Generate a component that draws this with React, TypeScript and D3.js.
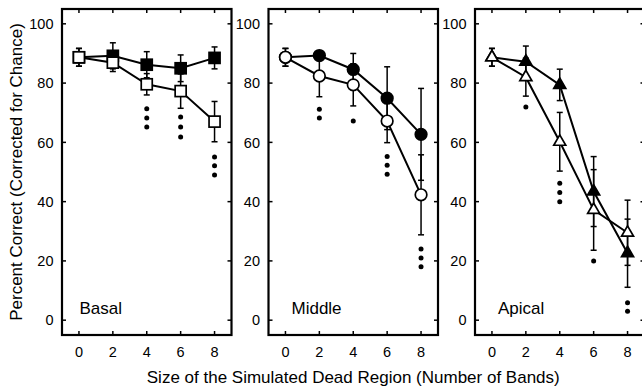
import React from 'react';
import * as d3 from 'd3';

// ---- data ----
const doses = [0, 2, 4, 6, 8];
const xTickValues = [0, 2, 4, 6, 8];
const yTickValues = [0, 20, 40, 60, 80, 100];
const panelNames = ['Basal', 'Middle', 'Apical'];
const markerShapes = ['square', 'circle', 'triangle'];

const basalFilled = [88.7, 89.2, 86.2, 85.0, 88.5];
const basalFilledErr = [3.0, 4.4, 4.4, 4.5, 3.7];
const basalOpen = [88.7, 86.9, 79.6, 77.3, 67.0];
const basalOpenErr = [3.0, 3.0, 3.6, 5.8, 6.8];

const middleFilled = [88.7, 89.3, 84.6, 74.9, 62.7];
const middleFilledErr = [3.0, 1.5, 5.4, 10.6, 15.5];
const middleOpen = [88.7, 82.4, 79.4, 67.2, 42.3];
const middleOpenErr = [3.0, 7.0, 7.1, 7.3, 13.5];

const apicalFilled = [88.7, 87.2, 79.4, 43.4, 22.6];
const apicalFilledErr = [3.0, 5.3, 5.3, 11.8, 11.5];
const apicalOpen = [88.7, 82.0, 60.2, 37.2, 29.5];
const apicalOpenErr = [3.0, 6.4, 9.9, 13.6, 11.0];

// significance dots: dose and the value of each dot
const basalSigDose = [4, 6, 8];
const basalSigVals = [[71.3, 68.2, 65.2], [68.6, 65.2, 61.8], [55.1, 52.1, 49.0]];
const middleSigDose = [2, 4, 6, 8];
const middleSigVals = [[71.2, 68.2], [67.2], [55.2, 52.3, 49.2], [24.0, 21.0, 18.0]];
const apicalSigDose = [2, 4, 6, 8];
const apicalSigVals = [[71.9], [46.2, 43.1, 40.0], [20.0], [5.9, 3.0]];

const xTitle = 'Size of the Simulated Dead Region (Number of Bands)';
const yTitle = 'Percent Correct (Corrected for Chance)';

// ---- layout ----
const W = 642;
const H = 390;
const panelLefts = [62, 268.5, 475];
const panelWidth = 169.5;
const plotTop = 9;
const plotBottom = 335;
const labelOffsets = [17.5, 23, 23];
const FONT = "'Liberation Sans', Arial, Helvetica, sans-serif";

const panels = [
  { filled: basalFilled, filledErr: basalFilledErr, open: basalOpen, openErr: basalOpenErr, sigDose: basalSigDose, sigVals: basalSigVals },
  { filled: middleFilled, filledErr: middleFilledErr, open: middleOpen, openErr: middleOpenErr, sigDose: middleSigDose, sigVals: middleSigVals },
  { filled: apicalFilled, filledErr: apicalFilledErr, open: apicalOpen, openErr: apicalOpenErr, sigDose: apicalSigDose, sigVals: apicalSigVals },
];

function Marker({ shape, cx, cy, filled }: { shape: string; cx: number; cy: number; filled: boolean }) {
  const fill = filled ? '#000' : '#fff';
  const common = { fill, stroke: '#000', strokeWidth: 1.7 };
  if (shape === 'square') {
    return <rect x={cx - 5.5} y={cy - 5.5} width={11} height={11} {...common} />;
  }
  if (shape === 'circle') {
    return <circle cx={cx} cy={cy} r={5.8} {...common} />;
  }
  const s = 12;
  const h = (s * Math.sqrt(3)) / 2;
  const d = `M${cx},${cy - (2 * h) / 3}L${cx - s / 2},${cy + h / 3}L${cx + s / 2},${cy + h / 3}Z`;
  return <path d={d} {...common} strokeLinejoin="miter" />;
}

function Panel({ index }: { index: number }) {
  const p = panels[index];
  const left = panelLefts[index];
  const x = d3.scaleLinear().domain([-1, 9]).range([left, left + panelWidth]);
  const y = d3.scaleLinear().domain([-5, 105]).range([plotBottom, plotTop]);
  const line = d3
    .line<number>()
    .x((_, i) => x(doses[i]))
    .y((v) => y(v));
  const shape = markerShapes[index];
  const tick = 4;

  const errBars = (vals: number[], errs: number[], key: string) =>
    vals.map((v, i) => {
      const cx = x(doses[i]);
      const y1 = y(v + errs[i]);
      const y2 = y(v - errs[i]);
      return (
        <g key={key + i} stroke="#000" strokeWidth={1.5}>
          <line x1={cx} x2={cx} y1={y1} y2={y2} />
          <line x1={cx - 3} x2={cx + 3} y1={y1} y2={y1} />
          <line x1={cx - 3} x2={cx + 3} y1={y2} y2={y2} />
        </g>
      );
    });

  return (
    <g>
      {/* frame */}
      <rect
        x={left}
        y={plotTop}
        width={panelWidth}
        height={plotBottom - plotTop}
        fill="none"
        stroke="#000"
        strokeWidth={2.2}
      />
      {/* x ticks (bottom & top, inward) */}
      {xTickValues.map((t) => (
        <g key={'xt' + t} stroke="#000" strokeWidth={1.5}>
          <line x1={x(t)} x2={x(t)} y1={plotBottom} y2={plotBottom - tick} />
          <line x1={x(t)} x2={x(t)} y1={plotTop} y2={plotTop + tick} />
        </g>
      ))}
      {xTickValues.map((t) => (
        <text key={'xl' + t} x={x(t)} y={357} textAnchor="middle" fontSize={14.5} fontFamily={FONT}>
          {t}
        </text>
      ))}
      {/* y ticks (left & right, inward) */}
      {yTickValues.map((t) => (
        <g key={'yt' + t} stroke="#000" strokeWidth={1.5}>
          <line x1={left} x2={left + tick} y1={y(t)} y2={y(t)} />
          <line x1={left + panelWidth} x2={left + panelWidth - tick} y1={y(t)} y2={y(t)} />
        </g>
      ))}
      {yTickValues.map((t) => (
        <text
          key={'yl' + t}
          x={left - 8.5}
          y={y(t)}
          dy="0.36em"
          textAnchor="end"
          fontSize={14.5}
          fontFamily={FONT}
        >
          {t}
        </text>
      ))}
      {/* panel label */}
      <text x={left + labelOffsets[index]} y={313.5} fontSize={17} fontFamily={FONT}>
        {panelNames[index]}
      </text>
      {/* significance dots */}
      {p.sigDose.map((dose, i) =>
        p.sigVals[i].map((v, j) => <circle key={'s' + i + '-' + j} cx={x(dose)} cy={y(v)} r={2.5} fill="#000" />)
      )}
      {/* lines */}
      <path d={line(p.filled) || ''} fill="none" stroke="#000" strokeWidth={2} />
      <path d={line(p.open) || ''} fill="none" stroke="#000" strokeWidth={2} />
      {/* error bars */}
      {errBars(p.filled, p.filledErr, 'fe')}
      {errBars(p.open, p.openErr, 'oe')}
      {/* markers */}
      {p.filled.map((v, i) => (
        <Marker key={'fm' + i} shape={shape} cx={x(doses[i])} cy={y(v)} filled={true} />
      ))}
      {p.open.map((v, i) => (
        <Marker key={'om' + i} shape={shape} cx={x(doses[i])} cy={y(v)} filled={false} />
      ))}
    </g>
  );
}

export default function App() {
  return (
    <svg
      width={W}
      height={H}
      viewBox={`0 0 ${W} ${H}`}
      style={{ position: 'absolute', left: 0, top: 0, background: '#fff' }}
    >
      <rect x={0} y={0} width={W} height={H} fill="#fff" />
      {panelNames.map((_, i) => (
        <Panel key={i} index={i} />
      ))}
      <text
        x={panelLefts[1] + panelWidth / 2}
        y={383}
        textAnchor="middle"
        fontSize={17}
        fontFamily={FONT}
      >
        {xTitle}
      </text>
      <text
        transform={`translate(22,${(plotTop + plotBottom) / 2}) rotate(-90)`}
        textAnchor="middle"
        fontSize={17}
        fontFamily={FONT}
      >
        {yTitle}
      </text>
    </svg>
  );
}
